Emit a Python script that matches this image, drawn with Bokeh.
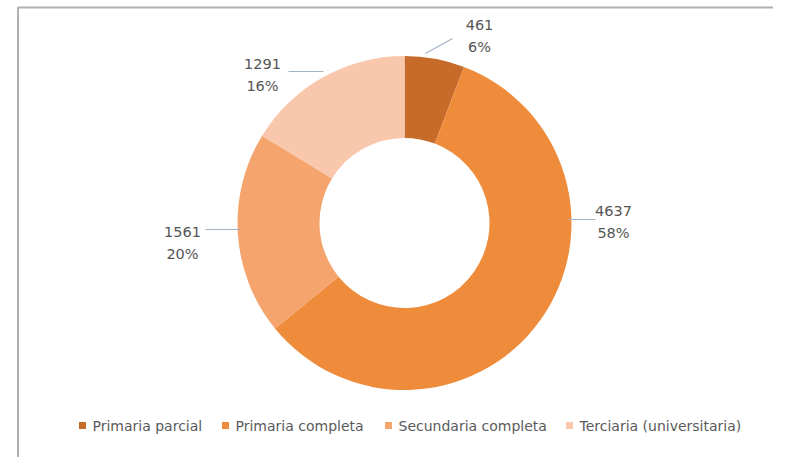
import math
from bokeh.plotting import figure
from bokeh.models import Range1d, ColumnDataSource
from bokeh.core.properties import value
from bokeh.embed import file_html
from bokeh.resources import INLINE

# ---- data ----
categories = ["Primaria parcial", "Primaria completa", "Secundaria completa", "Terciaria  (universitaria)"]
counts = [461, 4637, 1561, 1291]
colors = ["#C66B29", "#EE8C3C", "#F6A46E", "#F9C7AC"]

# ---- layout (picture pixel coordinates) ----
W, H = 773, 457
cx, cy = 404, 222.5          # donut centre
R_OUT, R_IN = 167, 85
label_xy = [(479, 24), (613, 210), (182, 231), (262, 63)]       # count label centre
leader = [((425, 53), (452, 38)), ((568, 219), (595, 219)),
          ((240, 229), (205, 229)), ((323, 71), (288, 71))]
legend_sq_x = [82, 225, 388, 569]
legend_y = 425

def Y(py):
    return H - py

total = sum(counts)
starts, ends = [], []
acc = 0
for c in counts:
    starts.append(math.pi / 2 - 2 * math.pi * acc / total)
    acc += c
    ends.append(math.pi / 2 - 2 * math.pi * acc / total)
pcts = [f"{round(100 * c / total)}%" for c in counts]

p = figure(width=W, height=H, output_backend="svg", toolbar_location=None,
           x_range=Range1d(0, W), y_range=Range1d(0, H),
           min_border=0, background_fill_color="white", border_fill_color="white")
p.axis.visible = False
p.grid.visible = False
p.outline_line_color = None

# frame lines (top & left)
p.segment(x0=[17, 17.5], y0=[Y(7), Y(7)], x1=[W, 17.5], y1=[Y(7), Y(H)],
          line_color="#B0B0B0", line_width=2)

src = ColumnDataSource(dict(start=starts, end=ends, color=colors, cat=categories))
p.annular_wedge(x=cx, y=Y(cy), inner_radius=R_IN, outer_radius=R_OUT,
                start_angle="start", end_angle="end", direction="clock",
                fill_color="color", line_color=None, source=src)

# leader lines
p.segment(x0=[a[0][0] for a in leader], y0=[Y(a[0][1]) for a in leader],
          x1=[a[1][0] for a in leader], y1=[Y(a[1][1]) for a in leader],
          line_color="#A3B3C8", line_width=1.2)

# data labels
p.text(x=[xy[0] for xy in label_xy], y=[Y(xy[1]) for xy in label_xy],
       text=[str(c) for c in counts], text_align="center", text_baseline="middle",
       text_font=value("DejaVu Sans"), text_font_size="14.5px", text_color="#555555")
p.text(x=[xy[0] for xy in label_xy], y=[Y(xy[1] + 22) for xy in label_xy],
       text=pcts, text_align="center", text_baseline="middle",
       text_font=value("DejaVu Sans"), text_font_size="14.5px", text_color="#555555")

# legend
p.scatter(x=legend_sq_x, y=[Y(legend_y)] * 4, marker="square", size=7,
          fill_color=colors, line_color=None)
p.text(x=[x + 10 for x in legend_sq_x], y=[Y(legend_y)] * 4, text=categories,
       text_align="left", text_baseline="middle",
       text_font=value("DejaVu Sans"), text_font_size="14px", text_color="#5A5A5A")

open("out.html", "w").write(file_html(p, INLINE))
